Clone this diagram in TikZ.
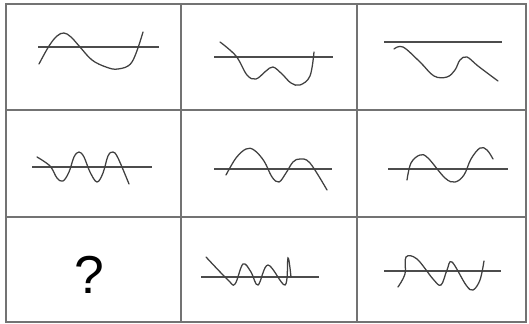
\documentclass[tikz,border=0pt]{standalone}
\usepackage{fontspec}
\setmainfont{Liberation Sans}
\tikzset{
  cellline/.style={draw=black!55,line width=1.3pt},
  axisline/.style={draw=black!70,line width=0.8pt},
  wave/.style={draw=black!75,line width=0.9pt,line cap=round}
}
\begin{document}
\begin{tikzpicture}[x=0.025cm,y=-0.025cm]
  \useasboundingbox (0,0) rectangle (529,324);
  % grid
  \draw[cellline] (6,4) rectangle (526,322);
  \draw[cellline] (181,4) -- (181,322);
  \draw[cellline] (357,4) -- (357,322);
  \draw[cellline] (6,110) -- (526,110);
  \draw[cellline] (6,217) -- (526,217);
  % row 1
  \draw[axisline] (38,47) -- (159,47);
  \draw[wave] plot[smooth,tension=0.6] coordinates {(39,64) (49,46) (57,36) (64,33) (71,37) (80,47) (92,60) (106,67) (118,69) (132,62) (143,32)};
  \draw[axisline] (214,57) -- (333,57);
  \draw[wave] plot[smooth,tension=0.6] coordinates {(220,42) (236,56) (247,75) (256,79) (266,71) (273,67) (282,74) (291,83) (300,85) (310,76) (314,52)};
  \draw[axisline] (384,42) -- (502,42);
  \draw[wave] plot[smooth,tension=0.6] coordinates {(394,49) (403,47) (420,62) (434,76) (447,77) (455,70) (460,60) (467,57) (478,66) (498,81)};
  % row 2
  \draw[axisline] (32,167) -- (152,167);
  \draw[wave] plot[smooth,tension=0.6] coordinates {(37,157) (50,166) (57,178) (63,181) (69,172) (74,157) (79,152) (84,157) (90,172) (97,182) (103,173) (108,156) (113,152) (118,158) (129,184)};
  \draw[axisline] (214,169) -- (332,169);
  \draw[wave] plot[smooth,tension=0.6] coordinates {(226,175) (236,158) (246,149) (254,150) (264,161) (272,177) (279,182) (286,173) (293,162) (300,159) (310,163) (327,190)};
  \draw[axisline] (388,169) -- (508,169);
  \draw[wave] plot[smooth,tension=0.6] coordinates {(407,180) (411,163) (420,155) (428,158) (445,178) (455,182) (464,175) (471,159) (480,148) (487,150) (493,159)};
  % row 3
  \node[font=\fontsize{38}{44}\selectfont] (query) at (89,275) {?};
  \draw[axisline] (201,277) -- (319,277);
  \draw[wave] plot[smooth,tension=0.6] coordinates {(206,257) (228,280) (235,284) (243,264) (251,272) (258,285) (268,265) (285,285) (288,258) (291,277)};
  \draw[axisline] (384,271) -- (501,271);
  \draw[wave] plot[smooth,tension=0.6] coordinates {(398,287) (405,274) (406,257) (417,259) (433,279) (441,285) (447,270) (452,262) (466,285) (473,290) (480,280) (484,261)};
\end{tikzpicture}
\end{document}
